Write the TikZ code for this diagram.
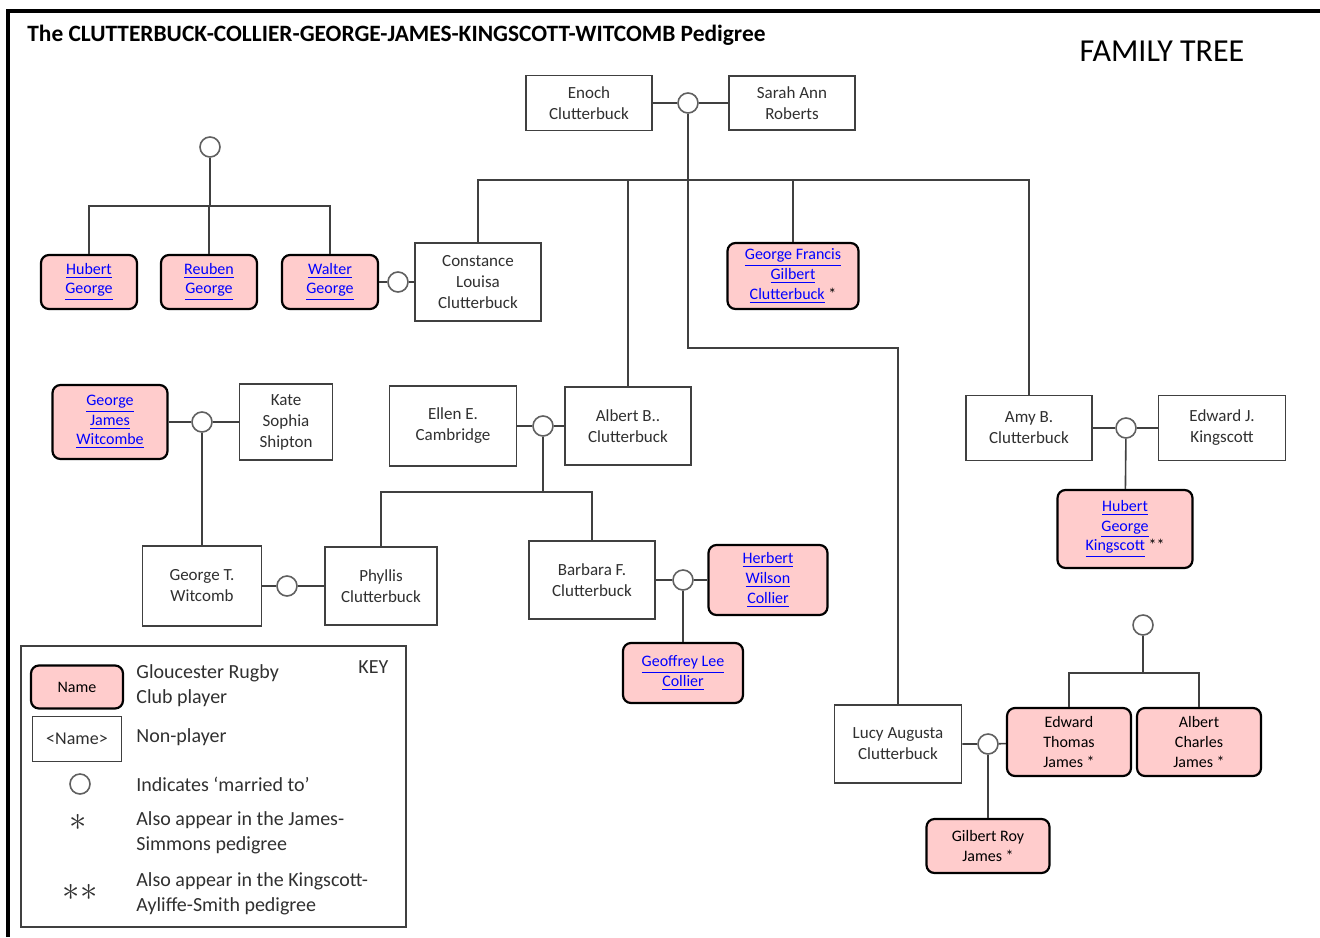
\documentclass[tikz,border=0pt]{standalone}
\usepackage{fontspec}
\setmainfont{Carlito}
\definecolor{pinkfill}{HTML}{FFCCCC}
\definecolor{linkblue}{HTML}{0000FF}
\definecolor{boxgray}{HTML}{404040}
\definecolor{textgray}{HTML}{303030}
\definecolor{ringgray}{HTML}{606060}
\newcommand{\lnk}[1]{\textcolor{linkblue}{\underline{#1}}}
\begin{document}
\begin{tikzpicture}[x=0.5pt, y=-0.5pt,
    plain/.style={draw=boxgray, line width=0.8pt, fill=white, align=center, inner sep=0pt,
      text=textgray, font=\fontsize{8.5}{10.5}\selectfont},
    player/.style={draw=black, line width=1.1pt, fill=pinkfill, rounded corners=4pt,
      align=center, inner sep=0pt, font=\fontsize{8}{9.8}\selectfont},
    sz/.style 2 args={minimum width=#1, minimum height=#2},
    wed/.style={circle, draw=ringgray, line width=0.8pt, fill=white, minimum size=10pt, inner sep=0pt},
    conn/.style={draw=boxgray, line width=0.8pt},
    keytext/.style={anchor=west, align=left, inner sep=0pt, text=textgray,
      font=\fontsize{10}{12.5}\selectfont}]
        \useasboundingbox (0,0) rectangle (1320,937);
        % Moldura e titulos
        \draw[line width=2pt] (8,937) -- (8,11) -- (1320,11);
        \node[anchor=west, inner sep=0pt, font=\fontsize{11.7}{13}\selectfont\bfseries] (title) at (27,35)
            {The CLUTTERBUCK-COLLIER-GEORGE-JAMES-KINGSCOTT-WITCOMB Pedigree};
        \node[inner sep=0pt, font=\fontsize{16}{18}\selectfont] (ftree) at (1162,51) {FAMILY TREE};

        % Enoch e Sarah Ann
        \node[plain, sz={63pt}{27.5pt}] (enoch) at (589,103) {Enoch\\Clutterbuck};
        \node[plain, sz={63pt}{27pt}] (sarah) at (792,103) {Sarah Ann\\Roberts};
        \node[wed] (m1) at (688,103) {};
        \coordinate (b1) at (688,180);
        \coordinate (lb) at (688,348);

        % Filhos
        \node[plain, sz={63pt}{39pt}] (constance) at (478,282) {Constance\\Louisa\\Clutterbuck};
        \node[player, sz={65.5pt}{33pt}] (gfg) at (793,276) {\lnk{George Francis}\\\lnk{Gilbert}\\\lnk{Clutterbuck} *};
        \node[plain, sz={63pt}{39pt}] (albert) at (628,426) {Albert B..\\Clutterbuck};
        \node[plain, sz={63pt}{32.5pt}] (amy) at (1029,428) {Amy B.\\Clutterbuck};
        \node[plain, sz={63.5pt}{39pt}] (lucy) at (898,744) {Lucy Augusta\\Clutterbuck};

        % Familia George
        \node[player, sz={48pt}{27pt}] (hubert) at (89,282) {\lnk{Hubert}\\\lnk{George}};
        \node[player, sz={48pt}{27pt}] (reuben) at (209,282) {\lnk{Reuben}\\\lnk{George}};
        \node[player, sz={48pt}{27pt}] (walter) at (330,282) {\lnk{Walter}\\\lnk{George}};
        \node[wed] (mg) at (210,147) {};
        \coordinate (gb) at (210,206);
        \node[wed] (m2) at (398,282) {};

        % Familia Witcomb
        \node[player, sz={57.5pt}{37pt}] (gjw) at (110,422) {\lnk{George}\\\lnk{James}\\\lnk{Witcombe}};
        \node[plain, sz={46.5pt}{38pt}] (kate) at (286,422) {Kate\\Sophia\\Shipton};
        \node[wed] (m3) at (202,422) {};
        \node[plain, sz={59.5pt}{40pt}] (gtw) at (202,586) {George T.\\Witcomb};
        \node[wed] (m4) at (287,586) {};
        \node[plain, sz={56pt}{39pt}] (phyllis) at (381,586) {Phyllis\\Clutterbuck};

        % Albert B. e Ellen
        \node[plain, sz={63.5pt}{40pt}] (ellen) at (453,426) {Ellen E.\\Cambridge};
        \node[wed] (m5) at (543,426) {};
        \coordinate (ab) at (543,492);
        \node[plain, sz={63pt}{39pt}] (barbara) at (592,580) {Barbara F.\\Clutterbuck};
        \node[wed] (m6) at (683,580) {};
        \node[player, sz={59.5pt}{35pt}] (herbert) at (768,580) {\lnk{Herbert}\\\lnk{Wilson}\\\lnk{Collier}};
        \node[player, sz={60pt}{30pt}] (geoffrey) at (683,673) {\lnk{Geoffrey Lee}\\\lnk{Collier}};

        % Kingscott
        \node[plain, sz={63.5pt}{32.5pt}] (edwardk) at (1222,428) {Edward J.\\Kingscott};
        \node[wed] (m7) at (1126,428) {};
        \node[player, sz={67.5pt}{39pt}] (hgk) at (1125,529) {\lnk{Hubert}\\\lnk{George}\\\lnk{Kingscott} **};

        % James
        \node[wed] (m8) at (988,744) {};
        \node[player, sz={62pt}{34pt}] (edwardt) at (1069,742) {Edward\\Thomas\\James *};
        \node[player, sz={62pt}{34pt}] (albertc) at (1199,742) {Albert\\Charles\\James *};
        \node[player, sz={61.5pt}{27pt}] (gilbert) at (988,846) {Gilbert Roy\\James *};
        \node[wed] (mj) at (1143,625) {};
        \coordinate (jb) at (1143,673);

        % Ligacoes
        \draw[conn] (enoch) -- (m1) -- (sarah);
        \draw[conn, line width=1.1pt] (m1) -- (b1);
        \draw[conn] (constance) |- (b1) -| (amy);
        \draw[conn] (albert) -- (albert |- b1);
        \draw[conn] (gfg) -- (gfg |- b1);
        \draw[conn] (b1) -- (lb) -| (lucy);
        \draw[conn] (mg) -- (gb);
        \draw[conn] (hubert) |- (gb) -| (walter);
        \draw[conn] (reuben) -- (reuben |- gb);
        \draw[conn] (walter) -- (m2) -- (constance);
        \draw[conn] (gjw) -- (m3) -- (kate);
        \draw[conn] (m3) -- (gtw);
        \draw[conn] (gtw) -- (m4) -- (phyllis);
        \draw[conn] (ellen) -- (m5) -- (albert);
        \draw[conn] (m5) -- (ab);
        \draw[conn] (phyllis) |- (ab) -| (barbara);
        \draw[conn] (barbara) -- (m6) -- (herbert);
        \draw[conn] (m6) -- (geoffrey);
        \draw[conn] (amy) -- (m7) -- (edwardk);
        \draw[conn] (m7) -- (hgk);
        \draw[conn] (lucy) -- (m8) -- (edwardt);
        \draw[conn] (m8) -- (gilbert);
        \draw[conn] (mj) -- (jb);
        \draw[conn] (edwardt) |- (jb) -| (albertc);

        % Legenda
        \draw[draw=boxgray, line width=0.8pt] (21,646) rectangle (406,927);
        \node[keytext] (keyt) at (358,667) {KEY};
        \node[player, sz={46pt}{21.5pt}, font=\fontsize{8}{10}\selectfont] (kplayer) at (77,687) {Name};
        \node[plain, sz={44.5pt}{22.5pt}, font=\fontsize{9}{10}\selectfont] (knon) at (77,739) {<Name>};
        \node[wed] (kwed) at (80,784) {};
        \node[inner sep=0pt, text=textgray, font=\fontsize{16}{16}\selectfont] (kstar) at (78,822) {$\ast$};
        \node[inner sep=0pt, text=textgray, font=\fontsize{16}{16}\selectfont] (kstars) at (80,892) {$\ast\ast$};
        \node[keytext] (k1) at (136,686) {Gloucester Rugby\\Club player};
        \node[keytext] (k2) at (136,737) {Non-player};
        \node[keytext] (k3) at (136,784) {Indicates ‘married to’};
        \node[keytext] (k4) at (136,833) {Also appear in the James-\\Simmons pedigree};
        \node[keytext] (k5) at (136,894) {Also appear in the Kingscott-\\Ayliffe-Smith pedigree};
    \end{tikzpicture}
\end{document}
